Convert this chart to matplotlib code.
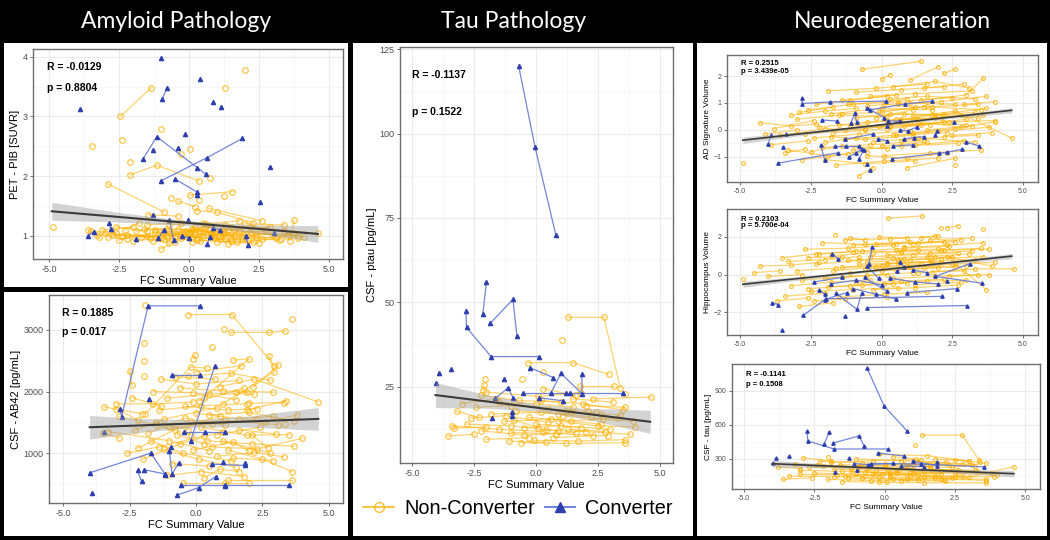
import matplotlib
matplotlib.use("Agg")
import matplotlib.pyplot as plt
from matplotlib.lines import Line2D
from matplotlib.patches import Rectangle

plt.rcParams["font.family"] = ["Liberation Sans", "DejaVu Sans"]

W, H = 1050, 540
ORANGE = "#FFB000"
BLUE = "#2E3FAE"
BLUE_LINE = "#6479D6"

# ---- data: each subject is a flat list x1, y1, x2, y2, ...
pib_nc = [
    [-2.45, 3.00, -1.35, 3.48], [1.3, 3.48], [2.0, 3.77], [-1.0, 2.79], [-2.4, 2.60],
    [-3.45, 2.51], [0.05, 2.45], [-0.3, 2.37], [-2.1, 2.23],
    [-2.1, 2.02, -1.15, 2.18, 0.35, 1.92], [0.75, 1.97], [-2.9, 1.87, -0.9, 1.40],
    [0.05, 1.68, 1.55, 1.74], [-0.65, 1.63], [1.25, 1.66], [-0.4, 1.58, 0.2, 1.49],
    [0.35, 1.60], [0.7, 1.46, 2.6, 1.25], [0.3, 1.42, 1.0, 1.39, 2.3, 1.22],
    [3.75, 1.26, 3.6, 0.92], [-4.85, 1.15], [-1.45, 1.35, -0.4, 1.33],
    [-3.5, 1.08, -2.6, 1.05], [-3.0, 1.04, -1.5, 1.00, 0.2, 1.02], [-2.9, 0.98, -2.2, 0.95],
    [-2.5, 0.93, -1.2, 1.05, 0.5, 1.00], [-2.3, 1.10, -1.8, 1.21], [-2.2, 1.02, -0.6, 0.95],
    [-1.9, 1.08, -0.8, 1.12, 0.9, 1.05], [-1.7, 0.98, -0.2, 1.04],
    [-1.6, 1.12, 0.1, 1.10, 1.6, 1.00], [-1.3, 0.92, -0.7, 0.88], [-1.0, 0.78, -0.5, 0.90],
    [-1.1, 1.03, 0.4, 1.08], [-0.8, 0.98, 0.6, 1.15, 1.8, 1.08],
    [-0.6, 1.05, 0.3, 0.97, 1.5, 0.92], [-0.4, 1.12, 0.8, 1.00],
    [-0.3, 0.96, 1.2, 1.03, 2.4, 0.98], [-0.1, 1.08, 0.7, 1.12],
    [0.0, 1.00, 1.4, 1.10, 3.0, 1.02], [0.2, 1.15, 1.1, 0.95],
    [0.4, 0.92, 1.7, 0.90, 3.3, 0.95], [0.5, 1.06, 2.0, 1.12],
    [0.9, 1.02, 2.2, 1.05, 3.6, 1.00], [1.0, 0.90, 2.5, 0.88], [1.3, 1.05, 2.8, 1.08],
    [1.5, 0.97, 3.2, 0.93], [1.9, 1.00, 3.7, 1.04, 4.1, 0.98], [2.2, 1.15, 4.6, 1.04],
    [2.6, 0.95, 3.5, 1.00], [-3.1, 1.10, -2.0, 1.14], [-2.7, 1.02, -1.4, 0.97],
    [-0.9, 1.06, 0.1, 0.90, 1.3, 0.95], [-1.5, 1.18, -0.3, 1.22], [0.6, 1.20, 1.8, 1.25],
    [1.6, 1.12, 2.9, 1.15], [3.4, 1.08, 3.9, 0.97],
    [-3.3, 1.02, -2.4, 1.00, -1.0, 0.97], [-2.0, 0.92, -0.9, 0.95, 0.3, 0.93],
    [-1.2, 1.10, 0.0, 1.05, 1.2, 1.10], [-0.5, 1.00, 0.9, 0.96, 2.1, 0.93],
    [0.1, 1.12, 1.3, 1.18, 2.7, 1.10], [0.8, 1.04, 1.9, 0.97, 3.1, 0.97],
    [1.4, 0.86, 2.3, 0.90], [-2.6, 1.15, -1.5, 1.08], [-0.7, 1.18, 0.5, 1.22, 1.5, 1.15],
    [2.0, 1.20, 3.4, 1.18], [-3.6, 1.09, -3.2, 0.98], [1.1, 1.00, 2.4, 1.03, 3.9, 1.00],
]
pib_conv = [
    [-3.9, 3.13], [-1.0, 3.98], [0.4, 3.62], [0.85, 3.25], [1.15, 3.15], [2.9, 2.16],
    [2.55, 1.57], [-0.15, 2.70], [-1.3, 2.44], [-0.4, 2.47], [-0.95, 3.30, -0.78, 3.48],
    [-1.65, 2.28, -1.15, 2.66, 0.3, 2.14, 0.6, 2.03], [-1.0, 1.92, 0.65, 2.31, 1.9, 2.63],
    [-0.5, 1.95, 0.3, 1.73, 0.28, 1.68], [-3.6, 1.00, -3.4, 1.07], [-1.3, 1.35],
    [-2.85, 1.22, -2.8, 1.12], [-1.9, 0.95], [-1.1, 0.96, -0.9, 1.10],
    [-0.7, 1.26, -0.55, 0.93], [-0.25, 0.99, 0.0, 0.96], [-0.02, 1.27],
    [0.65, 0.86, 0.75, 0.98], [0.85, 1.13, 1.1, 1.10], [2.1, 0.85, 2.05, 1.00], [3.05, 1.04],
]

ab_nc = [
    [-1.9, 3400], [-0.3, 3250, 1.35, 3250, 2.95, 2420], [1.05, 3020],
    [1.3, 2960, 2.75, 2960, 3.35, 2980], [3.6, 3170], [0.6, 2720], [-0.05, 2600, -0.1, 2530],
    [-1.95, 2780], [-1.95, 2500], [-1.95, 2250], [-2.5, 2340, -2.4, 2100],
    [1.4, 2510, 2.0, 2530, 0.3, 1900], [2.75, 2580, 2.95, 2320, 1.0, 1800],
    [-3.45, 1750, -2.05, 1640], [-3.0, 1800, -1.6, 1800, -0.1, 1830], [-3.0, 1720, -2.2, 1540],
    [-3.5, 1330, -2.9, 1250], [-3.3, 1350, -1.0, 1200, 0.5, 1040],
    [-2.2, 1080, -0.8, 1380, 0.9, 1600], [-1.9, 1640, -0.2, 2400, 0.4, 2380],
    [-1.3, 2200, 0.0, 2120, 1.6, 2180], [-1.1, 1890, 0.5, 1960, 2.2, 1960],
    [-0.8, 2240, 0.7, 2200], [-0.6, 2060, 1.0, 2010, 2.9, 1990],
    [-0.4, 1760, 1.2, 1700, 2.3, 1720], [-0.2, 1500, 1.1, 1530, 3.1, 1460],
    [0.0, 1650, 1.6, 1560, 2.9, 1600], [0.2, 1420, 1.9, 1290, 3.5, 1300],
    [0.4, 1200, 2.1, 1150, 3.7, 1110], [0.6, 1100, 2.3, 1070, 4.0, 1240],
    [0.8, 1300, 2.4, 1420], [1.0, 1200, 2.8, 1000], [1.2, 1050, 2.5, 900, 3.6, 700],
    [1.4, 920, 2.9, 880], [1.6, 1380, 3.0, 1310], [-1.5, 1500, -0.3, 1380],
    [-1.7, 1200, -0.5, 1000, 1.3, 880], [-1.2, 1060, 0.1, 900, 1.5, 770],
    [-0.9, 830, 0.5, 790], [-0.5, 520, 1.1, 520, 2.0, 520], [1.2, 560, 3.6, 560],
    [-2.6, 1000, -1.4, 1100, 0.3, 1280], [-2.3, 1370, -1.2, 1550, 0.8, 1740],
    [-0.1, 1050, 1.4, 1180, 2.0, 1030], [0.9, 2080, 2.2, 2200, 4.6, 1830],
    [2.0, 1810, 3.3, 1820], [2.6, 1500, 3.8, 1620], [-1.4, 1700, 0.2, 1770, 1.9, 1800],
    [-0.7, 1300, 0.3, 1150], [0.1, 1850, 1.8, 2050], [1.5, 1990, 1.9, 1990],
    [0.3, 600, 0.9, 740, 1.6, 700], [2.1, 1300, 2.7, 1080],
    [-1.0, 1420, 0.6, 1470, 2.3, 1560], [3.35, 1470], [2.15, 2070, 3.1, 2430],
    [-2.9, 1600, -1.5, 1450, -0.2, 1300], [-2.0, 900, -0.6, 1150, 1.0, 1350],
    [-1.6, 2000, -0.1, 1980, 1.5, 1870], [-0.3, 2250, 1.3, 2300, 2.8, 2180],
    [0.5, 1620, 2.0, 1660, 3.7, 1520], [-1.8, 1320, -0.4, 1570, 1.1, 1450],
    [0.8, 950, 2.2, 1010, 3.3, 940], [-1.1, 640, 0.2, 700, 1.8, 620],
    [0.0, 2320, 1.7, 2420], [1.9, 1700, 3.4, 1850], [-2.4, 1900, -1.3, 1760],
]
ab_conv = [
    [-2.85, 1710, -2.8, 1590, -1.8, 3390, 0.15, 3390], [-1.75, 1880],
    [-0.9, 2270, 0.15, 2270], [-0.2, 1200, 0.7, 2410], [-0.45, 1340, 0.35, 1340, 1.1, 1340],
    [-4.0, 680, -1.7, 1000, -1.15, 650], [-0.95, 1100, -1.0, 1030, -0.9, 660, -0.65, 840],
    [-2.2, 720, -2.05, 540], [-1.95, 730, -1.15, 660], [-3.9, 350],
    [0.6, 820, 1.85, 800, 1.85, 840], [1.0, 850], [-0.55, 480, 1.1, 480, 3.5, 480],
    [-0.7, 320, 0.1, 440, 0.75, 620], [1.1, 460], [-3.45, 1340],
]

pt_nc = [
    [1.29, 45.6, 2.74, 45.6, 3.39, 24.8], [1.05, 38.8], [-0.32, 32.2, 1.48, 32.2, 2.94, 28.7],
    [0.28, 29.4], [1.77, 25.3, 3.15, 25.3], [-2.05, 27.5], [-0.55, 27.5],
    [-2.1, 25.5, -2.15, 24.2], [3.6, 23.0], [-2.0, 23.5, 0.1, 22.2, 1.8, 23.3],
    [2.3, 21.5, 4.64, 22.0], [-3.55, 10.5, -2.5, 11.0], [-3.4, 13.5, -1.5, 12.5, 0.3, 11.8],
    [-3.3, 12.8, -2.0, 13.2], [-3.2, 17.8, -2.3, 16.0], [-2.8, 14.0, -1.0, 13.5, 0.9, 12.0],
    [-2.6, 15.8, -1.2, 16.5, 0.5, 14.5], [-2.4, 19.0, -1.0, 19.5, 1.2, 18.0],
    [-2.2, 12.0, -0.5, 10.8, 1.6, 11.5], [-2.0, 9.5, -0.3, 10.0],
    [-1.8, 17.0, 0.2, 17.5, 2.2, 16.2], [-1.5, 20.5, 0.0, 20.0, 1.5, 19.0],
    [-1.3, 14.8, 0.6, 15.5, 2.6, 14.0], [-1.0, 11.5, 0.8, 11.2, 2.9, 10.5],
    [-0.8, 18.0, 0.9, 17.0, 2.4, 17.5], [-0.6, 8.5, 1.2, 8.3, 3.6, 8.5],
    [-0.5, 13.0, 1.0, 13.5, 3.0, 12.5], [-0.3, 16.0, 1.4, 15.0, 3.3, 15.8],
    [-0.1, 9.2, 1.7, 9.0, 3.6, 9.4], [0.0, 14.0, 1.8, 13.0],
    [0.2, 21.0, 1.9, 20.0, 3.5, 18.2], [0.4, 12.2, 2.0, 11.8, 3.8, 11.0],
    [0.5, 18.5, 2.1, 17.8], [0.7, 10.0, 2.3, 10.5], [0.9, 14.8, 2.5, 13.5, 4.0, 13.2],
    [1.1, 16.5, 2.7, 15.5, 3.9, 14.8], [1.3, 12.5, 2.8, 11.8], [1.5, 21.5, 3.1, 20.5],
    [-3.0, 20.0, -1.6, 21.5], [-2.2, 22.5, -0.7, 21.0, 1.0, 20.5], [-1.1, 9.0, 0.4, 8.6],
    [0.3, 24.5, 1.6, 22.5], [2.0, 19.5, 3.6, 19.0], [-0.9, 15.2, 0.1, 13.0],
    [1.4, 17.5, 2.6, 17.0, 3.4, 16.8],
]
pt_conv = [
    [-0.7, 120, -0.04, 96, 0.8, 70], [-2.14, 46.7, -2.0, 56],
    [-2.82, 47.4, -2.8, 42.6, -1.81, 34, 0.12, 34], [-1.85, 43.8, -0.93, 50.9, -0.77, 40.2],
    [-4.03, 26.3], [-3.9, 29.0], [-3.43, 30.2], [-1.29, 27.4], [-0.24, 30.7, 0.69, 27.8],
    [0.6, 23.2, 1.01, 29.0, 1.85, 23.0, 1.85, 28.7],
    [-0.52, 23.2, 1.2, 23.2, 1.35, 23.2, 3.5, 23.2], [-1.65, 21.6, -1.13, 24.7, -0.92, 21.8],
    [0.12, 21.8, 1.09, 20.9], [-0.97, 17.7, -0.95, 16.5], [-1.78, 15.8],
]

ad_nc = [
    [-4.9, -1.22], [-4.3, 0.27, -3.2, 0.15, -2.3, 0.22], [-3.9, -0.55, -2.6, -0.40],
    [-3.6, -0.20, -2.0, 0.05, -0.6, 0.00], [-3.3, -0.75, -1.9, -0.95, -0.5, -0.80],
    [-3.0, 0.40, -1.5, 0.55, 0.2, 0.50], [-2.8, -1.10, -1.2, -0.90],
    [-2.6, 0.75, -1.0, 0.95, 0.9, 1.15], [-2.4, -0.30, -0.8, -0.15, 1.0, -0.05],
    [-2.2, 0.10, -0.5, 0.30, 1.3, 0.40], [-2.1, -0.65, -0.4, -0.55, 1.5, -0.40],
    [-1.9, 1.45, -0.2, 1.55, 1.6, 1.70], [-1.8, 0.60, 0.0, 0.80, 1.8, 0.75],
    [-1.6, -1.30, 0.1, -1.15, 2.0, -1.05], [-1.5, 0.20, 0.3, 0.10, 2.2, 0.30],
    [-1.3, -0.35, 0.4, -0.20, 2.3, -0.10], [-1.2, 0.95, 0.6, 1.05, 2.5, 1.20],
    [-1.0, -0.75, 0.7, -0.60, 2.7, -0.50], [-0.9, 0.45, 0.8, 0.60, 2.8, 0.55],
    [-0.8, -1.70, -0.3, -1.40], [-0.7, 2.25, 1.4, 2.55], [-0.6, 0.05, 1.0, 0.25, 3.0, 0.20],
    [-0.4, 1.25, 1.2, 1.35, 3.2, 1.45], [-0.3, -0.45, 1.3, -0.30, 3.3, -0.45],
    [-0.1, 0.70, 1.5, 0.85, 3.4, 0.95], [0.0, 1.90, 0.3, 2.05],
    [0.1, -0.95, 1.7, -0.85, 3.5, -0.75], [0.2, 0.35, 1.9, 0.45, 3.6, 0.55],
    [0.4, 1.60, 1.9, 1.80, 3.1, 1.55], [0.5, -0.20, 2.0, -0.05, 3.8, 0.10],
    [0.6, 0.95, 2.1, 1.05, 3.7, 1.25], [0.8, 0.15, 2.4, 0.30, 4.0, 0.35],
    [0.9, -1.40, 2.6, -1.05], [1.0, 1.85, 2.0, 2.35], [1.1, 0.50, 2.6, 0.70, 4.6, -0.30],
    [1.2, -0.55, 2.9, -0.40], [1.4, 1.10, 3.0, 1.30, 3.6, 1.92], [1.6, 0.00, 3.2, 0.15],
    [1.8, 0.85, 3.5, 0.75], [2.2, 2.10, 2.6, 2.25], [2.5, -0.20, 3.9, -0.10], [2.6, -1.30],
    [-3.4, -0.85, -2.7, -0.70], [-2.9, 0.65, -1.7, 0.85], [-2.5, -0.80, -1.4, -0.60, 0.2, -0.70],
    [-1.7, -0.10, 0.2, 0.05, 1.7, 0.20], [-1.1, 0.15, 0.5, 0.40, 2.1, 0.45],
    [-0.5, -0.95, 0.9, -1.05, 2.3, -0.85], [0.3, 0.60, 1.8, 0.55, 3.3, 0.65],
    [0.7, -0.40, 2.2, -0.25, 3.4, -0.20], [-0.2, 0.45, 1.1, 0.75], [-1.4, 1.10, 0.2, 1.25],
    [1.3, 0.30, 2.8, 0.10], [-2.0, -0.45, -0.9, -0.30], [0.0, -0.60, 1.6, -0.45],
    [-4.1, -0.15, -3.0, 0.00], [2.9, 0.95, 4.0, 1.05],
    [-3.2, 0.55, -2.0, 0.70, -0.9, 0.80], [-2.7, -0.15, -1.3, 0.00, 0.3, 0.15],
    [-2.3, 0.95, -1.1, 1.10, 0.5, 1.30], [-1.8, -0.25, -0.6, -0.35, 1.1, -0.20],
    [-1.4, 0.60, 0.0, 0.65, 1.6, 0.90], [-0.9, 1.40, 0.7, 1.50, 2.2, 1.60],
    [-0.5, 0.90, 1.0, 1.00, 2.6, 0.95], [-0.1, 0.15, 1.4, 0.20, 3.0, 0.40],
    [0.3, 1.15, 1.6, 1.25, 3.3, 1.15], [0.7, 0.40, 2.2, 0.60, 3.7, 0.80],
    [1.1, -0.10, 2.6, 0.05, 4.0, 0.30], [1.5, 1.55, 2.9, 1.70], [1.9, 0.55, 3.4, 0.45],
    [-2.0, -1.10, -0.6, -1.25, 1.2, -1.15], [0.1, 0.95, 1.2, 0.85], [-3.8, 0.05, -2.4, 0.35],
]
ad_conv = [
    [-2.82, 1.17, -2.8, 0.98, -1.82, 1.04, 0.16, 1.07], [-0.4, 0.75, 0.83, 0.96, 1.78, 1.07],
    [-2.1, 0.37, -1.57, 0.33], [-1.08, 0.26, -0.94, 0.63, -0.88, 0.28], [-0.51, 0.83, 0.1, 0.45],
    [0.23, 0.33, 0.64, 0.33, 0.18, 0.15], [-4.01, -0.52, -3.9, -0.18], [-3.48, -0.65],
    [-3.66, -1.23, -1.55, -0.85], [-3.37, -0.14], [-2.15, -0.57, -2.0, -1.12],
    [-1.65, -0.60, -1.25, -0.60, -0.8, -0.60], [-0.62, -0.75, -0.8, -1.07], [-0.5, -1.25],
    [-0.4, -1.48], [0.37, -1.07, 2.02, -0.86, 2.3, -0.83, 2.83, -0.72], [3.0, -0.45, 3.45, -0.60],
    [0.8, -0.33, 1.15, -0.28, 1.5, -0.25], [1.97, -0.03, 1.9, -0.20],
    [0.66, 0.00, 0.95, -0.03, 1.27, 0.12], [2.55, 0.28], [-0.12, -0.33, 0.18, -0.40],
    [-1.15, -1.00, -0.9, -0.85, -0.7, -0.72], [-1.3, -0.35, -0.3, -0.15], [0.4, -0.6, 1.1, -0.55],
]

hip_nc = [
    [0.23, 3.0, 1.43, 3.12], [2.1, 2.5], [2.33, 2.5, 2.7, 2.6], [3.6, 2.45], [-1.63, 2.1],
    [-1.1, 1.95, -0.6, 1.85], [-4.9, -0.25], [-4.3, 0.45, -3.2, 0.50, -2.2, 0.65],
    [-4.0, -0.10, -2.8, 0.00], [-3.7, -1.40, -2.6, -1.25], [-3.5, 0.90, -2.3, 1.10, -1.0, 1.20],
    [-3.2, -0.60, -1.8, -0.40, -0.4, -0.30], [-3.0, 0.20, -1.6, 0.35, 0.0, 0.45],
    [-2.9, -1.70, -1.7, -1.50], [-2.7, 1.35, -1.2, 1.40, 0.4, 1.55],
    [-2.5, -0.90, -1.0, -0.80, 0.6, -0.70], [-2.3, 0.55, -0.8, 0.75, 0.8, 0.85],
    [-2.1, 1.70, -0.6, 1.60, 1.0, 1.75], [-2.0, -0.20, -0.5, -0.05, 1.1, 0.10],
    [-1.8, 1.00, -0.3, 1.15, 1.3, 1.30], [-1.5, -1.20, 0.1, -1.05, 1.6, -0.95],
    [-1.4, 0.40, 0.2, 0.55, 1.8, 0.70], [-1.3, 1.85, 0.3, 1.90, 1.9, 2.05],
    [-1.1, 0.10, 0.5, 0.25, 2.0, 0.35], [-0.9, -0.45, 0.7, -0.35, 2.2, -0.25],
    [-0.7, 1.25, 0.8, 1.40, 2.4, 1.50], [-0.5, 0.65, 1.0, 0.80, 2.5, 0.95],
    [-0.3, -0.80, 1.2, -0.70, 2.7, -0.55], [-0.2, 1.60, 1.3, 1.70, 2.8, 1.85],
    [0.0, 0.20, 1.5, 0.35, 3.0, 0.45], [0.2, 1.05, 1.7, 1.15, 3.2, 1.25],
    [0.4, -0.20, 1.9, -0.10, 3.4, 0.00], [0.6, 0.75, 2.1, 0.85, 3.6, 0.95],
    [0.8, 1.45, 2.3, 1.55, 3.6, 1.70], [1.0, 0.40, 2.5, 0.55, 4.0, 0.65],
    [1.2, -0.55, 2.8, -0.40], [1.4, 1.95, 2.0, 2.05], [1.6, 0.95, 3.1, 1.10],
    [1.8, 0.15, 3.3, 0.30, 4.68, 0.30], [2.1, 1.30, 3.5, 1.40], [2.4, -0.10, 3.8, 0.00],
    [2.6, 0.60, 3.7, -0.80], [-3.4, -1.15, -2.0, -1.00], [-2.6, 0.90, -1.4, 0.95],
    [-1.9, -0.65, -0.7, -0.55, 0.9, -0.45], [-1.2, 0.75, 0.4, 0.90, 1.9, 0.95],
    [-0.6, 0.30, 0.9, 0.45, 2.6, 0.40], [0.1, -0.50, 1.6, -0.35, 3.0, -0.30],
    [0.5, 1.30, 2.0, 1.35], [-0.1, 2.00, 0.9, 1.95], [-2.4, -1.40, -1.3, -1.30, 0.2, -1.20],
    [1.1, 1.65, 2.6, 1.75], [-4.5, 0.10, -3.6, 0.20],
    [-3.3, 0.70, -2.0, 0.80, -0.8, 0.95], [-2.8, -0.30, -1.4, -0.15, 0.2, 0.00],
    [-2.2, 1.10, -0.9, 1.25, 0.7, 1.20], [-1.7, 0.20, -0.2, 0.40, 1.4, 0.55],
    [-1.0, 1.55, 0.5, 1.65, 2.2, 1.75], [-0.4, 0.95, 1.1, 1.05, 2.7, 1.15],
    [0.2, 0.60, 1.7, 0.70, 3.3, 0.80], [0.7, 1.20, 2.2, 1.30, 3.8, 1.35],
    [1.3, 0.10, 2.9, 0.20], [1.7, 1.85, 3.2, 1.95], [-2.6, -0.75, -1.1, -0.60, 0.4, -0.50],
    [-0.8, 0.55, 0.6, 0.60, 2.1, 0.65], [2.3, 0.95, 3.9, 0.45],
]
hip_conv = [
    [-3.87, -1.5, -3.66, -1.6], [-3.52, -2.98], [-2.77, -2.18, -2.0, -1.33, -1.23, -0.96],
    [-2.2, -0.83, -2.0, -1.05, -1.97, -1.29, 2.14, -1.16], [-1.75, 1.12, -1.55, 0.85],
    [-1.29, -2.23], [-1.6, -1.0, -0.87, -1.86, -0.7, -1.0], [-0.33, 1.44, -0.45, 0.55],
    [-0.5, 0.43, -0.1, -0.2], [-0.51, -1.76, 3.02, -1.65], [3.13, 0.58, 1.9, -0.1, 3.55, -0.46],
    [2.3, -0.35], [0.66, 0.65, 0.8, 0.4, 0.55, 0.2], [0.9, -0.96, 2.67, -0.75],
    [-1.8, -0.5, -0.9, -0.3, 0.0, -0.55], [-1.0, -0.75, -0.2, -1.05, 0.5, -1.3],
    [0.3, -0.2, 1.2, -0.4, 2.0, -0.5], [-2.4, -0.4, -1.4, -0.15], [-0.6, -0.15, 0.2, -0.9],
    [1.1, 0.25, 1.6, 0.1],
]

tau_nc = [
    [1.33, 511, 2.76, 511, 3.36, 291], [1.09, 423], [-0.2, 340, 1.5, 330, 3.0, 280],
    [1.8, 300, 3.0, 285], [-2.0, 320], [-3.6, 120, -2.6, 135], [-3.4, 150, -1.8, 145, -0.2, 140],
    [-3.2, 260, -2.2, 240], [-3.0, 200, -1.5, 190, 0.2, 180], [-2.7, 230, -1.2, 220, 0.5, 205],
    [-2.5, 175, -1.0, 165, 0.8, 160], [-2.3, 280, -0.8, 265, 1.0, 255],
    [-2.0, 120, -0.5, 110, 1.2, 115], [-1.8, 210, -0.3, 200, 1.4, 190],
    [-1.6, 250, 0.0, 240, 1.6, 230], [-1.4, 150, 0.2, 160, 1.8, 150],
    [-1.2, 190, 0.4, 175, 2.0, 170], [-1.0, 300, 0.6, 285, 2.2, 270],
    [-0.8, 135, 0.8, 125, 2.4, 130], [-0.6, 220, 1.0, 210, 2.6, 200],
    [-0.4, 170, 1.2, 160, 2.8, 150], [-0.2, 95, 1.4, 90, 3.6, 90],
    [0.0, 260, 1.6, 250, 3.2, 240], [0.2, 140, 1.8, 130, 3.6, 120],
    [0.4, 200, 2.0, 195, 3.8, 180], [0.6, 110, 2.2, 105], [0.8, 240, 2.4, 225, 3.6, 265],
    [1.0, 180, 2.6, 175, 4.0, 160], [1.2, 275, 2.8, 260], [1.4, 145, 3.0, 140, 4.6, 232],
    [1.6, 210, 3.2, 200], [2.0, 125, 3.6, 110], [-2.9, 310, -1.9, 280], [-1.5, 100, 0.1, 95],
    [0.3, 320, 1.1, 300], [-0.9, 240, 0.7, 255, 2.3, 245], [2.5, 290, 3.4, 270],
    [-3.8, 230, -3.0, 215],
    [-3.0, 165, -1.7, 160, -0.1, 155], [-2.4, 250, -0.9, 230, 0.9, 225],
    [-1.3, 130, 0.3, 120, 2.1, 115], [-0.7, 185, 0.9, 175, 2.5, 180],
    [0.1, 215, 1.7, 205, 3.3, 190], [0.9, 150, 2.5, 140, 3.9, 145],
    [1.5, 260, 3.1, 250], [-1.9, 270, -0.4, 285, 1.3, 295],
]
tau_conv = [
    [-0.62, 1100, -0.02, 768, 0.8, 547], [-2.76, 547, -2.73, 459, -1.8, 388, 0.12, 388],
    [-2.15, 432, -1.97, 538], [-1.83, 441, -0.91, 503, -0.73, 415], [-0.23, 353, 0.7, 326],
    [-3.86, 309], [-3.4, 326], [-1.26, 309], [-3.97, 265], [1.0, 282, 1.87, 238, 1.87, 275],
    [-0.5, 260, 1.3, 255, 3.54, 230], [-1.76, 185], [-0.98, 203],
    [-1.1, 260, -0.6, 250, 0.3, 262], [0.6, 240, 1.4, 232],
]

# regression line and confidence band
band_x = {
    "pib": [-4.9, -2.5, 0.0, 2.5, 4.6], "ab": [-4.0, -2.0, 0.0, 2.0, 4.6],
    "pt": [-4.05, -2.0, 0.0, 2.0, 4.6], "ad": [-4.9, -2.5, 0.0, 2.5, 4.6],
    "hip": [-4.9, -2.5, 0.0, 2.5, 4.6], "tau": [-4.0, -2.0, 0.0, 2.0, 4.6],
}
fit_y = {
    "pib": [1.41, 1.31, 1.21, 1.11, 1.03], "ab": [1420, 1451, 1483, 1514, 1555],
    "pt": [22.6, 20.7, 18.9, 17.1, 14.7], "ad": [-0.38, -0.10, 0.19, 0.48, 0.73],
    "hip": [-0.52, -0.14, 0.25, 0.65, 0.98], "tau": [258, 238, 217, 197, 170],
}
band_half = {
    "pib": [0.15, 0.08, 0.04, 0.07, 0.14], "ab": [190, 110, 60, 90, 185],
    "pt": [3.7, 2.0, 1.0, 1.6, 3.4], "ad": [0.12, 0.06, 0.04, 0.05, 0.10],
    "hip": [0.16, 0.08, 0.05, 0.07, 0.14], "tau": [30, 16, 9, 14, 28],
}

fig = plt.figure(figsize=(W / 100, H / 100), dpi=100, facecolor="black")


def px_box(x0, y0, x1, y1):
    return [x0 / W, 1 - y1 / H, (x1 - x0) / W, (y1 - y0) / H]


for x0, y0, x1, y1 in [(4, 43, 348, 287), (4, 292, 348, 536), (353, 43, 693, 536), (697, 43, 1047, 536)]:
    fig.patches.append(Rectangle(px_box(x0, y0, x1, y1)[:2], (x1 - x0) / W, (y1 - y0) / H,
                                 transform=fig.transFigure, facecolor="white", edgecolor="none", zorder=-1))

for cx, title in [(176, "Amyloid Pathology"), (514, "Tau Pathology"), (892, "Neurodegeneration")]:
    fig.text(cx / W, 1 - 22 / H, title, color="white", ha="center", va="center",
             fontsize=16.5, family=["Lato", "DejaVu Sans"])


def draw(box, key, nc, conv, xlim, ylim, yticks, yminor, ylabel, r_txt, p_txt, txt_y, big=True):
    ax = fig.add_axes(px_box(*box))
    ms_c, ms_t = (4.0, 3.0) if big else (2.8, 2.4)
    for s in nc:
        ax.plot(s[0::2], s[1::2], color=ORANGE, lw=0.9, alpha=0.55, zorder=2)
        ax.plot(s[0::2], s[1::2], ls="none", marker="o", mfc="none", mec=ORANGE, mew=0.8,
                ms=ms_c, alpha=0.8, zorder=3)
    for s in conv:
        ax.plot(s[0::2], s[1::2], color=BLUE_LINE, lw=0.9, alpha=0.9, zorder=4)
        ax.plot(s[0::2], s[1::2], ls="none", marker="^", color=BLUE, ms=ms_t, zorder=5)
    bx, fy, hw = band_x[key], fit_y[key], band_half[key]
    ax.fill_between(bx, [y - h for y, h in zip(fy, hw)], [y + h for y, h in zip(fy, hw)],
                    color="#9E9E9E", alpha=0.45, lw=0, zorder=6)
    ax.plot([bx[0], bx[-1]], [fy[0], fy[-1]], color="#3B3B3B", lw=1.5 if big else 1.2, zorder=7)

    ax.set_xlim(*xlim)
    ax.set_ylim(*ylim)
    ax.set_xticks([-5, -2.5, 0, 2.5, 5])
    ax.set_xticklabels(["-5.0", "-2.5", "0.0", "2.5", "5.0"])
    ax.set_xticks([-3.75, -1.25, 1.25, 3.75], minor=True)
    ax.set_yticks(yticks)
    ax.set_yticks(yminor, minor=True)
    ax.grid(True, which="major", color="#EBEBEB", lw=0.8, zorder=0)
    ax.grid(True, which="minor", color="#F4F4F4", lw=0.5, zorder=0)
    ax.set_axisbelow(True)
    fs_t, fs_l, fs_a = (6.5, 8, 7.5) if big else (5, 6, 5.5)
    ax.tick_params(which="major", length=2.5, width=0.6, color="#555555", labelcolor="#4D4D4D",
                   labelsize=fs_t, pad=1.5)
    ax.tick_params(which="minor", length=0)
    for sp in ax.spines.values():
        sp.set_color("#6E6E6E")
        sp.set_linewidth(1.0)
    ax.set_xlabel("FC Summary Value", fontsize=fs_l, labelpad=2)
    ax.set_ylabel(ylabel, fontsize=fs_l, labelpad=2)
    ax.text(0.045, txt_y[0], r_txt, transform=ax.transAxes, fontsize=fs_a, fontweight="bold",
            va="center", zorder=8)
    ax.text(0.045, txt_y[1], p_txt, transform=ax.transAxes, fontsize=fs_a, fontweight="bold",
            va="center", zorder=8)
    return ax


draw((33, 49, 343, 259), "pib", pib_nc, pib_conv, (-5.57, 5.5), (0.61, 4.13), [1, 2, 3, 4],
     [1.5, 2.5, 3.5], "PET - PIB [SUVR]", "R = -0.0129", "p = 0.8804", (0.914, 0.814))
draw((49, 295, 343, 503), "ab", ab_nc, ab_conv, (-5.53, 5.53), (190, 3567), [1000, 2000, 3000],
     [500, 1500, 2500, 3500], "CSF - AB42 [pg/mL]", "R = 0.1885", "p = 0.017", (0.913, 0.822))
draw((400, 47, 673, 463), "pt", pt_nc, pt_conv, (-5.48, 5.52), (2.5, 125.6), [25, 50, 75, 100, 125],
     [12.5, 37.5, 62.5, 87.5, 112.5], "CSF - ptau [pg/mL]", "R = -0.1137", "p = 0.1522", (0.933, 0.844))
draw((727, 55, 1038, 182), "ad", ad_nc, ad_conv, (-5.46, 5.53), (-1.93, 2.78), [-1, 0, 1, 2],
     [-1.5, -0.5, 0.5, 1.5, 2.5], "AD Signature Volume", "R = 0.2515", "p = 3.439e-05",
     (0.93, 0.874), big=False)
draw((727, 209, 1038, 335), "hip", hip_nc, hip_conv, (-5.46, 5.53), (-3.22, 3.49), [-2, 0, 2],
     [-3, -1, 1, 3], "Hippocampus Volume", "R = 0.2103", "p = 5.700e-04", (0.92, 0.873), big=False)
draw((732, 364, 1040, 489), "tau", tau_nc, tau_conv, (-5.43, 5.53), (35, 1138), [300, 600, 900],
     [150, 450, 750, 1050], "CSF - tau [pg/mL]", "R = -0.1141", "p = 0.1508", (0.92, 0.832), big=False)

handles = [
    Line2D([], [], color=ORANGE, lw=1.3, alpha=0.8, marker="o", mfc="none", mec=ORANGE, ms=7),
    Line2D([], [], color=BLUE_LINE, lw=1.3, marker="^", mfc=BLUE, mec=BLUE, ms=7),
]
fig.legend(handles, ["Non-Converter", "Converter"], loc="center", ncol=2, frameon=False,
           bbox_to_anchor=(518 / W, 1 - 508 / H), fontsize=14.3, handlelength=1.55,
           handletextpad=0.5, columnspacing=0.5)

fig.savefig("out.png", dpi=100, facecolor="black")
